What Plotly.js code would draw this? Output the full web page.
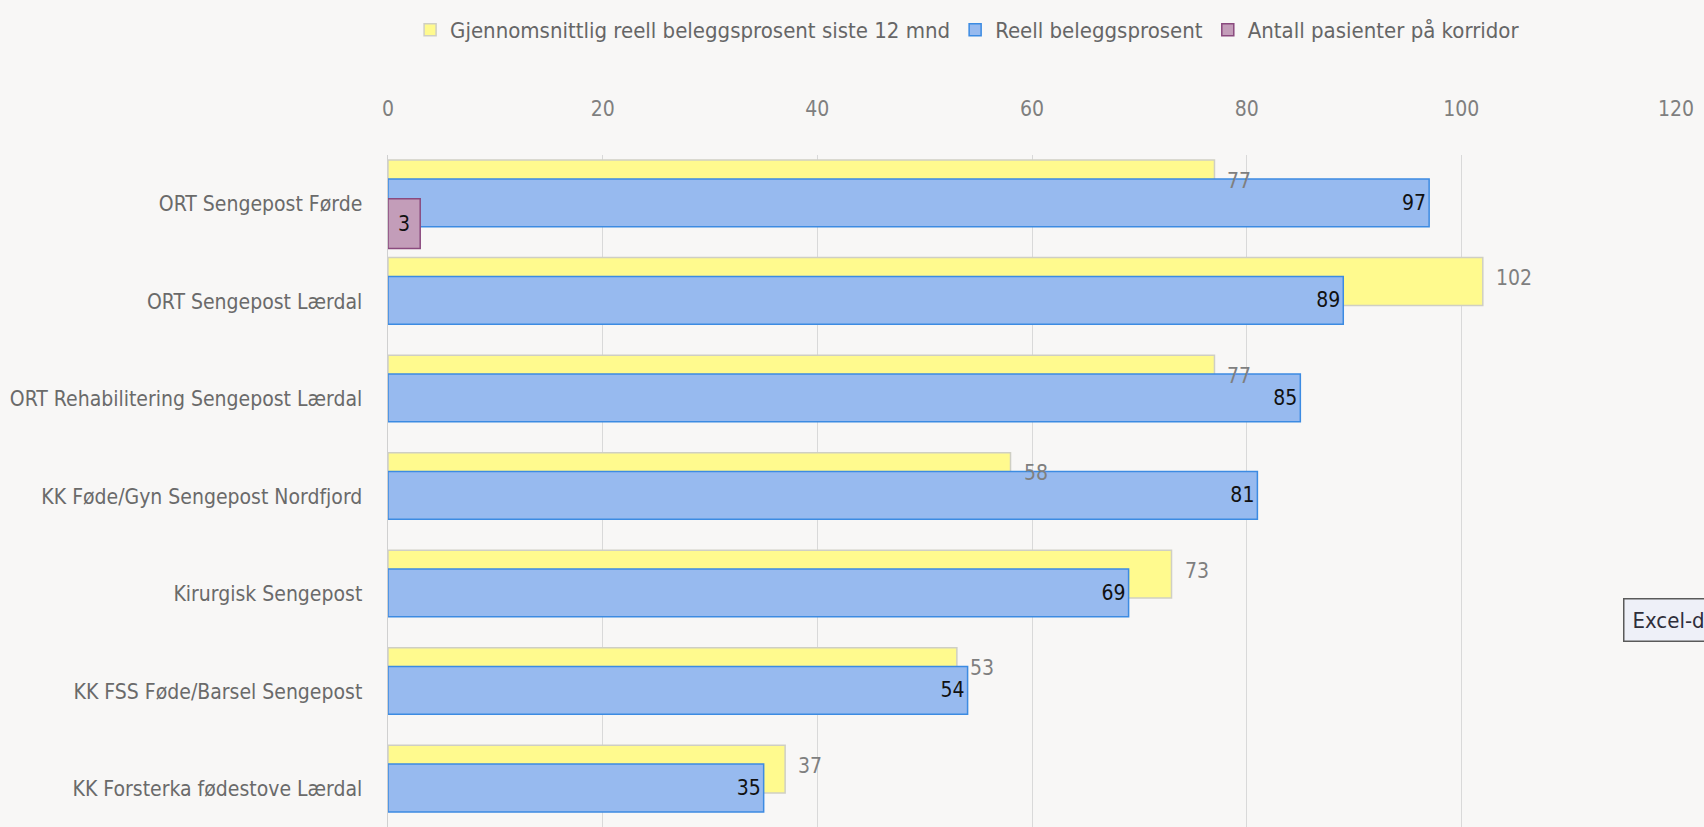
<!DOCTYPE html>
<html>
<head>
<meta charset="utf-8">
<script src="https://cdn.plot.ly/plotly-3.0.1.min.js"></script>
<style>
html,body{margin:0;padding:0;background:#F8F7F6;}
#chart{width:1704px;height:827px;}
</style>
</head>
<body>
<div id="chart"></div>
<script>
const categories = [
  "ORT Sengepost Førde",
  "ORT Sengepost Lærdal",
  "ORT Rehabilitering Sengepost Lærdal",
  "KK Føde/Gyn Sengepost Nordfjord",
  "Kirurgisk Sengepost",
  "KK FSS Føde/Barsel Sengepost",
  "KK Forsterka fødestove Lærdal"
];
const seriesNames = [
  "Gjennomsnittlig reell beleggsprosent siste 12 mnd",
  "Reell beleggsprosent",
  "Antall pasienter på korridor"
];
const avg12 = [77, 102, 77, 58, 73, 53, 37];
const reell = [97, 89, 85, 81, 69, 54, 35];
const korridor = [3, null, null, null, null, null, null];
const xTicks = [0, 20, 40, 60, 80, 100, 120];

const FONT = "'Liberation Sans Narrow', 'DejaVu Sans Condensed', 'Liberation Sans', sans-serif";
const BW = 0.49;

const traces = [
  {
    type: 'bar', orientation: 'h', name: seriesNames[0],
    y: categories, x: avg12,
    offset: -0.448, width: BW,
    marker: {color: '#FFFA8E', line: {color: '#CFCFC4', width: 1.5}},
    textposition: 'none',
    cliponaxis: false, hoverinfo: 'skip'
  },
  {
    type: 'bar', orientation: 'h', name: seriesNames[1],
    y: categories, x: reell,
    offset: -0.255, width: BW,
    marker: {color: '#97BAEF', line: {color: '#3C8BE2', width: 1.5}},
    text: reell.map(String), textposition: 'inside', insidetextanchor: 'end',
    insidetextfont: {family: FONT, size: 21, color: '#111111'},
    constraintext: 'none', cliponaxis: false, hoverinfo: 'skip'
  },
  {
    type: 'bar', orientation: 'h', name: seriesNames[2],
    y: categories, x: korridor,
    offset: -0.052, width: 0.51,
    marker: {color: '#C39DB9', line: {color: '#8A4A7E', width: 1.5}},
    text: korridor.map(v => v == null ? '' : String(v)), textposition: 'inside', insidetextanchor: 'middle',
    insidetextfont: {family: FONT, size: 21, color: '#111111'},
    constraintext: 'none', cliponaxis: false, hoverinfo: 'skip'
  }
];

// labels for the 12-month average, drawn above all bars (as in the original)
const avgLabels = avg12.map((v, i) => ({
  xref: 'x', yref: 'y', x: v, y: categories[i],
  xanchor: 'left', yanchor: 'middle', xshift: 11, yshift: 23,
  text: String(v), showarrow: false,
  font: {family: FONT, size: 21, color: '#7F7F7F'}
}));

const layout = {
  width: 1704, height: 827,
  paper_bgcolor: '#F8F7F6', plot_bgcolor: '#F8F7F6',
  margin: {l: 388, r: 28, t: 155, b: 0, pad: 0},
  barmode: 'overlay',
  showlegend: true,
  font: {family: FONT, size: 21, color: '#6E6E6E'},
  legend: {
    orientation: 'h', x: 0.45, xanchor: 'center', y: 1.186, yanchor: 'middle',
    font: {family: FONT, size: 22, color: '#666666'},
    itemwidth: 30, traceorder: 'normal', bgcolor: 'rgba(0,0,0,0)'
  },
  xaxis: {
    side: 'top', range: [0, 120], tickvals: xTicks, ticktext: xTicks.map(String),
    showgrid: true, gridcolor: '#D9D9D9', gridwidth: 1,
    zeroline: false, showline: false, ticks: '',
    ticklabelstandoff: 34,
    tickfont: {family: FONT, size: 21, color: '#7F7F7F'},
    fixedrange: true
  },
  yaxis: {
    type: 'category', categoryarray: categories, categoryorder: 'array',
    range: [6.39, -0.5],
    showgrid: false, zeroline: false,
    showline: true, linecolor: '#D0D0D0', linewidth: 1.5,
    ticks: '', ticklabelstandoff: 20,
    tickfont: {family: FONT, size: 21, color: '#6A6A6A'},
    fixedrange: true
  },
  annotations: avgLabels.concat([
    {
      xref: 'paper', yref: 'y', x: 0.959, y: 4.27, xanchor: 'left', yanchor: 'middle',
      text: 'Excel-diagram', showarrow: false,
      font: {family: FONT, size: 22, color: '#2E2E3A'},
      bgcolor: '#EEF0F8', bordercolor: '#5A5A5A', borderwidth: 1.5, borderpad: 8,
      align: 'left'
    }
  ])
};

Plotly.newPlot('chart', traces, layout, {displayModeBar: false, staticPlot: true});
</script>
</body>
</html>
